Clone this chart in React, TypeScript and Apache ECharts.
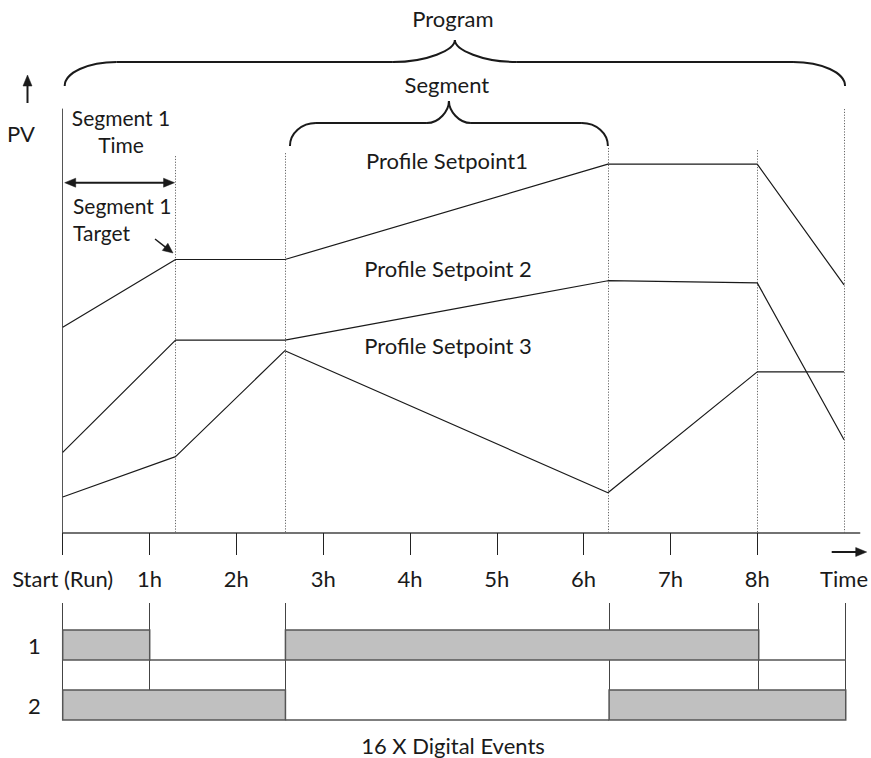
import React, { useEffect, useRef } from "react";
import * as echarts from "echarts";

// ---- data ----
const segTimes = [0, 1.3, 2.56, 6.28, 8, 9];
const sp1 = [48.5, 64.5, 64.5, 87, 87, 58.5];
const sp2 = [19, 45.5, 45.5, 59.5, 59, 22];
const sp3 = [8.5, 18, 43, 9.5, 38, 38];
const hourTicks = [0, 1, 2, 3, 4, 5, 6, 7, 8];
const labelValues = [0, 1, 2, 3, 4, 5, 6, 7, 8, 9];
const timeLabels = ["Start (Run)", "1h", "2h", "3h", "4h", "5h", "6h", "7h", "8h", "Time"];
const dividerTimes = [1.3, 2.56, 6.28, 8, 9];
const dividerTops = [88.9, 89.6, 90.8, 90.3, 100];
const eventRows = ["1", "2"];
const event1On = [[0, 1], [2.56, 8]];
const event2On = [[0, 2.56], [6.28, 9]];
const eventLineTimes = [0, 1, 2.56, 6.28, 8, 9];
const programEnd = 9;

const FONT = "Lato";
const FS = 22;
const X_MAX = 9.18;
const INK = "#1a1a1a";

function offIntervals(on: number[][], end: number) {
  const res: number[][] = [];
  let cur = 0;
  on.forEach(([a, b]) => {
    if (a > cur) res.push([cur, a]);
    cur = b;
  });
  if (cur < end) res.push([cur, end]);
  return res;
}

function bracePieces(x0: number, x1: number, yEnd: number, yMid: number, yCusp: number, r: number, rc: number, lw: number) {
  const k = 0.552;
  const xc = (x0 + x1) / 2;
  const st = { stroke: INK, lineWidth: lw, fill: "none" };
  const els: any[] = [];
  els.push({ type: "bezierCurve", shape: { x1: x0, y1: yEnd, x2: x0 + r, y2: yMid, cpx1: x0, cpy1: yEnd - k * (yEnd - yMid), cpx2: x0 + r - k * r, cpy2: yMid }, style: st });
  els.push({ type: "line", shape: { x1: x0 + r, y1: yMid, x2: xc - rc, y2: yMid }, style: st });
  els.push({ type: "bezierCurve", shape: { x1: xc - rc, y1: yMid, x2: xc, y2: yCusp, cpx1: xc - rc + k * rc, cpy1: yMid, cpx2: xc, cpy2: yMid - k * (yMid - yCusp) }, style: st });
  els.push({ type: "bezierCurve", shape: { x1: xc + rc, y1: yMid, x2: xc, y2: yCusp, cpx1: xc + rc - k * rc, cpy1: yMid, cpx2: xc, cpy2: yMid - k * (yMid - yCusp) }, style: st });
  els.push({ type: "line", shape: { x1: x1 - r, y1: yMid, x2: xc + rc, y2: yMid }, style: st });
  els.push({ type: "bezierCurve", shape: { x1: x1, y1: yEnd, x2: x1 - r, y2: yMid, cpx1: x1, cpy1: yEnd - k * (yEnd - yMid), cpx2: x1 - r + k * r, cpy2: yMid }, style: st });
  return { els, xc };
}

function arrow(x1: number, y1: number, x2: number, y2: number, both = false, len = 11, half = 4.5, lw = 2) {
  const els: any[] = [];
  const ang = Math.atan2(y2 - y1, x2 - x1);
  const ux = Math.cos(ang), uy = Math.sin(ang);
  const head = (tx: number, ty: number, dx: number, dy: number) => {
    const bx = tx - dx * len, by = ty - dy * len;
    return {
      type: "polygon",
      shape: { points: [[tx, ty], [bx - dy * half, by + dx * half], [bx + dy * half, by - dx * half]] },
      style: { fill: INK, stroke: INK, lineWidth: 0.5 },
    };
  };
  const sx = both ? x1 + ux * (len - 2) : x1;
  const sy = both ? y1 + uy * (len - 2) : y1;
  els.push({ type: "line", shape: { x1: sx, y1: sy, x2: x2 - ux * (len - 2), y2: y2 - uy * (len - 2) }, style: { stroke: INK, lineWidth: lw } });
  els.push(head(x2, y2, ux, uy));
  if (both) els.push(head(x1, y1, -ux, -uy));
  return els;
}

function txt(text: string, x: number, y: number, align = "center", size = FS) {
  return {
    type: "text",
    x,
    y,
    style: {
      text,
      fill: INK,
      font: `${size}px ${FONT}`,
      fontFamily: FONT,
      fontSize: size,
      align,
      textAlign: align,
      verticalAlign: "middle",
      textVerticalAlign: "middle",
    },
  };
}

export default function App() {
  const ref = useRef<HTMLDivElement>(null);
  useEffect(() => {
    document.body.style.margin = "0";
    const chart = echarts.init(ref.current!, null, { renderer: "svg", width: 871, height: 758 });

    const lineSeries = (name: string, vals: number[]) => ({
      type: "line",
      name,
      xAxisIndex: 0,
      yAxisIndex: 0,
      data: segTimes.map((t, i) => [t, vals[i]]),
      showSymbol: false,
      symbol: "none",
      lineStyle: { color: INK, width: 1.2 },
      silent: true,
      z: 3,
    });

    const rowsOn = [event1On, event2On];
    const rowLow = [1, 0];
    const boxData: number[][] = [];
    rowsOn.forEach((on, r) => on.forEach(([a, b]) => boxData.push([a, b, rowLow[r]])));
    const lowData: any[] = [];
    rowsOn.forEach((on, r) =>
      offIntervals(on, programEnd).forEach(([a, b]) => lowData.push({ coords: [[a, rowLow[r]], [b, rowLow[r]]] }))
    );

    const option: any = {
      animation: false,
      backgroundColor: "#fff",
      textStyle: { fontFamily: FONT, color: INK },
      grid: [
        { left: 62.7, top: 109, width: 798.7, height: 424 },
        { left: 62.7, top: 600, width: 798.7, height: 120 },
      ],
      xAxis: [
        {
          type: "value",
          gridIndex: 0,
          min: 0,
          max: X_MAX,
          axisLine: { show: true, onZero: false, lineStyle: { color: "#444", width: 1.5 } },
          axisTick: { show: true, customValues: hourTicks, length: 22, lineStyle: { color: "#222", width: 1 } },
          axisLabel: {
            show: true,
            customValues: labelValues,
            formatter: (v: number) => timeLabels[Math.round(v)],
            margin: 34,
            fontFamily: FONT,
            fontSize: FS,
            lineHeight: 22,
            color: INK,
          },
          splitLine: { show: false },
        },
        { type: "value", gridIndex: 1, min: 0, max: X_MAX, show: false },
      ],
      yAxis: [
        {
          type: "value",
          gridIndex: 0,
          min: 0,
          max: 100,
          axisLine: { show: true, onZero: false, lineStyle: { color: "#555", width: 1 } },
          axisTick: { show: false },
          axisLabel: { show: false },
          splitLine: { show: false },
        },
        {
          type: "value",
          gridIndex: 1,
          min: 0,
          max: 2,
          axisLine: { show: false },
          axisTick: { show: false },
          splitLine: { show: false },
          axisLabel: {
            show: true,
            customValues: [1.25, 0.25],
            formatter: (v: number) => (v > 1 ? eventRows[0] : eventRows[1]),
            margin: 22,
            fontFamily: FONT,
            fontSize: FS,
            color: INK,
          },
        },
      ],
      series: [
        {
          type: "lines",
          coordinateSystem: "cartesian2d",
          xAxisIndex: 0,
          yAxisIndex: 0,
          clip: false,
          silent: true,
          z: 1,
          lineStyle: { color: "#666", width: 1, type: [1.2, 1.6], opacity: 1, curveness: 0 },
          data: dividerTimes.map((t, i) => ({ coords: [[t, dividerTops[i]], [t, 0]] })),
        },
        lineSeries("Profile Setpoint1", sp1),
        lineSeries("Profile Setpoint 2", sp2),
        lineSeries("Profile Setpoint 3", sp3),
        {
          type: "lines",
          coordinateSystem: "cartesian2d",
          xAxisIndex: 1,
          yAxisIndex: 1,
          clip: false,
          silent: true,
          z: 1,
          lineStyle: { color: "#444", width: 1, opacity: 1, curveness: 0 },
          data: eventLineTimes.map((t) => ({ coords: [[t, 1.95], [t, 0]] })),
        },
        {
          type: "lines",
          coordinateSystem: "cartesian2d",
          xAxisIndex: 1,
          yAxisIndex: 1,
          clip: false,
          silent: true,
          z: 2,
          lineStyle: { color: "#555", width: 1.5, opacity: 1, curveness: 0 },
          data: lowData,
        },
        {
          type: "custom",
          xAxisIndex: 1,
          yAxisIndex: 1,
          silent: true,
          z: 3,
          data: boxData,
          renderItem: (params: any, api: any) => {
            const a = api.coord([api.value(0), api.value(2) + 0.5]);
            const b = api.coord([api.value(1), api.value(2)]);
            return {
              type: "rect",
              shape: { x: a[0], y: a[1], width: b[0] - a[0], height: b[1] - a[1] },
              style: { fill: "#c0c0c0", stroke: "#555", lineWidth: 1.5 },
            };
          },
        },
      ],
    };
    chart.setOption(option);

    const px = (t: number) => (chart.convertToPixel({ gridIndex: 0 } as any, [t, 0]) as number[])[0];

    const prog = bracePieces(px(0) + 2, px(programEnd) + 1, 86, 62, 40, 52, 62, 2);
    const seg = bracePieces(px(segTimes[2]) + 5, px(segTimes[3]), 146, 123, 101, 26, 22, 2);

    const graphic: any[] = [
      ...prog.els,
      ...seg.els,
      txt("Program", prog.xc - 2, 18),
      txt("Segment", seg.xc - 2, 84),
      txt("PV", 21, 133),
      txt("Segment 1", 121, 117, "center", 21),
      txt("Time", 121, 144, "center", 21),
      txt("Segment 1", 73, 205, "left", 21),
      txt("Target", 73, 232, "left", 21),
      txt("Profile Setpoint1", 447, 160),
      txt("Profile Setpoint 2", 448, 268),
      txt("Profile Setpoint 3", 448, 345),
      txt("16 X Digital Events", 453, 745),
      ...arrow(27.5, 103, 27.5, 75),
      ...arrow(831.7, 552, 866.7, 552),
      ...arrow(155, 239, 173, 253, false, 10, 4.5, 1.5),
      ...arrow(px(0) + 2, 182.7, px(segTimes[1]) - 1, 182.7, true),
    ];
    chart.setOption({ graphic: graphic.map((g) => ({ ...g, silent: true, z: 10 })) });

    return () => chart.dispose();
  }, []);
  return <div ref={ref} style={{ width: 871, height: 758 }} />;
}
